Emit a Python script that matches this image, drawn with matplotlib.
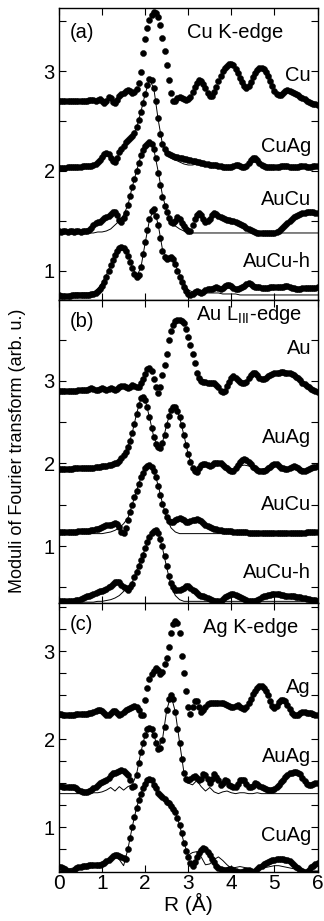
import numpy as np
import matplotlib
matplotlib.use('Agg')
import matplotlib.pyplot as plt
from matplotlib.ticker import MultipleLocator, FuncFormatter

plt.rcParams['font.family'] = ['Liberation Sans', 'DejaVu Sans']

# R grid of the measured spectra (0.05 A) and of the fitted curves (0.1 A)
r_exp = np.linspace(0, 6, 121)
r_fit = np.linspace(0, 6, 61)

# ---- (a) Cu K-edge ----
cu_a = [2.70, 2.70, 2.70, 2.70, 2.70, 2.70, 2.70, 2.70, 2.70, 2.70,
        2.70, 2.70, 2.70, 2.70, 2.71, 2.71, 2.71, 2.70, 2.71, 2.72,
        2.70, 2.68, 2.70, 2.74, 2.73, 2.69, 2.68, 2.71, 2.75, 2.77,
        2.78, 2.80, 2.81, 2.80, 2.78, 2.79, 2.82, 2.88, 2.99, 3.18,
        3.32, 3.43, 3.51, 3.56, 3.59, 3.58, 3.54, 3.46, 3.33, 3.20,
        3.06, 2.91, 2.78, 2.70, 2.70, 2.73, 2.74, 2.73, 2.72, 2.71,
        2.72, 2.74, 2.79, 2.84, 2.88, 2.91, 2.90, 2.87, 2.83, 2.78,
        2.75, 2.75, 2.79, 2.84, 2.90, 2.95, 3.00, 3.03, 3.05, 3.07,
        3.07, 3.06, 3.02, 2.98, 2.93, 2.89, 2.85, 2.83, 2.85, 2.89,
        2.94, 2.98, 3.01, 3.03, 3.03, 3.02, 2.99, 2.95, 2.90, 2.85,
        2.80, 2.77, 2.76, 2.76, 2.78, 2.80, 2.81, 2.80, 2.79, 2.78,
        2.77, 2.76, 2.74, 2.73, 2.72, 2.70, 2.69, 2.68, 2.67, 2.67,
        2.66]
cuag_a = [2.03, 2.03, 2.03, 2.03, 2.04, 2.04, 2.04, 2.04, 2.04, 2.04,
          2.04, 2.05, 2.05, 2.05, 2.05, 2.05, 2.06, 2.07, 2.09, 2.11,
          2.14, 2.17, 2.18, 2.17, 2.13, 2.10, 2.09, 2.13, 2.19, 2.22,
          2.25, 2.29, 2.31, 2.33, 2.35, 2.38, 2.44, 2.51, 2.59, 2.68,
          2.77, 2.86, 2.92, 2.91, 2.83, 2.70, 2.53, 2.37, 2.27, 2.22,
          2.18, 2.17, 2.16, 2.15, 2.14, 2.14, 2.13, 2.13, 2.12, 2.12,
          2.11, 2.11, 2.10, 2.10, 2.09, 2.09, 2.08, 2.08, 2.07, 2.07,
          2.06, 2.06, 2.06, 2.06, 2.05, 2.05, 2.04, 2.04, 2.04, 2.04,
          2.04, 2.05, 2.06, 2.06, 2.05, 2.04, 2.04, 2.05, 2.08, 2.11,
          2.13, 2.13, 2.11, 2.08, 2.06, 2.05, 2.04, 2.04, 2.04, 2.04,
          2.04, 2.04, 2.04, 2.05, 2.05, 2.05, 2.05, 2.04, 2.04, 2.04,
          2.04, 2.04, 2.05, 2.05, 2.05, 2.04, 2.04, 2.04, 2.05, 2.05,
          2.05]
aucu_a = [1.40, 1.39, 1.40, 1.40, 1.39, 1.40, 1.40, 1.39, 1.40, 1.40,
          1.39, 1.40, 1.40, 1.40, 1.41, 1.43, 1.46, 1.48, 1.49, 1.49,
          1.51, 1.53, 1.54, 1.55, 1.57, 1.59, 1.59, 1.56, 1.51, 1.49,
          1.53, 1.58, 1.66, 1.75, 1.84, 1.92, 2.00, 2.08, 2.16, 2.21,
          2.25, 2.27, 2.29, 2.27, 2.22, 2.13, 1.98, 1.86, 1.74, 1.65,
          1.59, 1.53, 1.49, 1.48, 1.50, 1.54, 1.52, 1.48, 1.45, 1.42,
          1.40, 1.40, 1.46, 1.52, 1.56, 1.58, 1.56, 1.52, 1.49, 1.50,
          1.52, 1.56, 1.58, 1.57, 1.55, 1.54, 1.53, 1.52, 1.51, 1.51,
          1.50, 1.50, 1.49, 1.48, 1.47, 1.46, 1.45, 1.43, 1.42, 1.41,
          1.40, 1.39, 1.38, 1.38, 1.38, 1.38, 1.38, 1.38, 1.38, 1.38,
          1.38, 1.39, 1.40, 1.42, 1.44, 1.46, 1.48, 1.50, 1.52, 1.54,
          1.55, 1.56, 1.57, 1.58, 1.58, 1.59, 1.59, 1.59, 1.59, 1.58,
          1.58]
aucuh_a = [0.76, 0.75, 0.75, 0.75, 0.75, 0.75, 0.76, 0.76, 0.76, 0.76,
           0.76, 0.76, 0.76, 0.76, 0.76, 0.77, 0.77, 0.78, 0.80, 0.82,
           0.85, 0.89, 0.94, 1.00, 1.06, 1.11, 1.16, 1.20, 1.23, 1.24,
           1.23, 1.20, 1.15, 1.09, 1.03, 0.97, 0.94, 0.96, 1.04, 1.17,
           1.29, 1.41, 1.52, 1.60, 1.62, 1.55, 1.46, 1.33, 1.20, 1.14,
           1.12, 1.13, 1.14, 1.12, 1.07, 1.00, 0.94, 0.89, 0.84, 0.80,
           0.77, 0.76, 0.77, 0.79, 0.80, 0.79, 0.78, 0.79, 0.81, 0.82,
           0.82, 0.82, 0.83, 0.84, 0.83, 0.82, 0.83, 0.85, 0.86, 0.86,
           0.85, 0.83, 0.82, 0.82, 0.83, 0.84, 0.85, 0.87, 0.88, 0.87,
           0.85, 0.84, 0.84, 0.84, 0.83, 0.83, 0.83, 0.83, 0.84, 0.84,
           0.84, 0.84, 0.84, 0.84, 0.84, 0.85, 0.85, 0.84, 0.83, 0.83,
           0.82, 0.82, 0.82, 0.83, 0.83, 0.83, 0.83, 0.83, 0.83, 0.83,
           0.84]
cuag_a_fit = [2.02, 2.02, 2.02, 2.03, 2.03, 2.03, 2.04, 2.05, 2.06, 2.09,
              2.13, 2.16, 2.14, 2.11, 2.17, 2.24, 2.30, 2.35, 2.43, 2.59,
              2.77, 2.91, 2.83, 2.52, 2.27, 2.17, 2.13, 2.11, 2.09, 2.07,
              2.06, 2.06, 2.07, 2.07, 2.06, 2.05, 2.05, 2.04, 2.04, 2.04,
              2.04, 2.05, 2.05, 2.04, 2.05, 2.09, 2.08, 2.05, 2.04, 2.03,
              2.03, 2.03, 2.03, 2.03, 2.03, 2.03, 2.03, 2.03, 2.03, 2.03,
              2.03]
aucu_a_fit = [1.38, 1.38, 1.38, 1.38, 1.38, 1.38, 1.38, 1.38, 1.38, 1.39,
              1.39, 1.40, 1.42, 1.46, 1.50, 1.56, 1.66, 1.84, 2.00, 2.15,
              2.25, 2.29, 2.22, 2.00, 1.76, 1.60, 1.50, 1.45, 1.42, 1.40,
              1.39, 1.38, 1.38, 1.38, 1.38, 1.38, 1.38, 1.38, 1.38, 1.38,
              1.38, 1.38, 1.38, 1.38, 1.38, 1.38, 1.38, 1.38, 1.38, 1.38,
              1.38, 1.38, 1.38, 1.38, 1.38, 1.38, 1.38, 1.38, 1.38, 1.38,
              1.38]
aucuh_a_fit = [0.75, 0.75, 0.76, 0.77, 0.78, 0.78, 0.78, 0.78, 0.79, 0.82,
               0.88, 0.96, 1.06, 1.15, 1.22, 1.24, 1.17, 1.04, 0.95, 1.03,
               1.28, 1.51, 1.62, 1.47, 1.22, 1.13, 1.13, 1.06, 0.97, 0.88,
               0.81, 0.79, 0.78, 0.78, 0.78, 0.78, 0.78, 0.78, 0.77, 0.77,
               0.77, 0.77, 0.76, 0.76, 0.76, 0.76, 0.76, 0.76, 0.76, 0.76,
               0.76, 0.76, 0.76, 0.76, 0.76, 0.76, 0.76, 0.76, 0.76, 0.76,
               0.76]

# ---- (b) Au L_III-edge ----
au_b = [2.88, 2.88, 2.88, 2.88, 2.88, 2.88, 2.88, 2.88, 2.88, 2.89,
        2.89, 2.89, 2.89, 2.89, 2.90, 2.91, 2.90, 2.89, 2.89, 2.90,
        2.91, 2.90, 2.89, 2.90, 2.91, 2.90, 2.89, 2.90, 2.92, 2.94,
        2.94, 2.92, 2.91, 2.93, 2.95, 2.94, 2.92, 2.93, 2.97, 3.02,
        3.08, 3.14, 3.16, 3.12, 3.02, 2.92, 2.85, 2.92, 3.07, 3.19,
        3.33, 3.49, 3.61, 3.68, 3.72, 3.74, 3.74, 3.73, 3.70, 3.63,
        3.53, 3.43, 3.33, 3.22, 3.10, 3.04, 3.00, 2.99, 2.99, 2.98,
        2.98, 2.98, 2.97, 2.95, 2.92, 2.88, 2.86, 2.88, 2.94, 2.99,
        3.03, 3.06, 3.04, 3.01, 2.99, 2.97, 2.97, 2.99, 3.03, 3.07,
        3.10, 3.10, 3.07, 3.04, 3.02, 3.02, 3.04, 3.06, 3.07, 3.08,
        3.09, 3.10, 3.10, 3.11, 3.11, 3.10, 3.10, 3.09, 3.08, 3.07,
        3.05, 3.03, 3.01, 2.98, 2.96, 2.94, 2.92, 2.90, 2.89, 2.88,
        2.87]
auag_b = [1.93, 1.93, 1.93, 1.93, 1.93, 1.93, 1.93, 1.94, 1.94, 1.94,
          1.94, 1.94, 1.94, 1.95, 1.95, 1.95, 1.95, 1.96, 1.96, 1.96,
          1.97, 1.97, 1.97, 1.98, 1.98, 1.99, 2.00, 2.01, 2.03, 2.06,
          2.10, 2.14, 2.20, 2.27, 2.37, 2.48, 2.60, 2.71, 2.79, 2.81,
          2.77, 2.68, 2.56, 2.43, 2.32, 2.24, 2.20, 2.19, 2.25, 2.35,
          2.47, 2.58, 2.65, 2.68, 2.68, 2.64, 2.56, 2.46, 2.34, 2.22,
          2.11, 2.02, 1.95, 1.91, 1.90, 1.94, 1.98, 1.99, 1.99, 1.98,
          1.97, 1.98, 2.00, 2.01, 2.01, 2.00, 1.98, 1.96, 1.94, 1.92,
          1.91, 1.91, 1.94, 1.98, 2.02, 2.04, 2.05, 2.04, 2.02, 1.99,
          1.96, 1.94, 1.92, 1.91, 1.91, 1.91, 1.92, 1.94, 1.96, 1.98,
          1.99, 1.99, 1.97, 1.95, 1.94, 1.93, 1.93, 1.94, 1.96, 1.97,
          1.96, 1.94, 1.92, 1.91, 1.91, 1.92, 1.93, 1.95, 1.96, 1.96,
          1.97]
aucu_b = [1.17, 1.17, 1.17, 1.17, 1.17, 1.17, 1.17, 1.17, 1.17, 1.18,
          1.18, 1.18, 1.18, 1.18, 1.18, 1.19, 1.19, 1.20, 1.21, 1.22,
          1.23, 1.24, 1.25, 1.26, 1.26, 1.27, 1.28, 1.27, 1.23, 1.17,
          1.16, 1.22, 1.31, 1.41, 1.50, 1.59, 1.67, 1.75, 1.83, 1.89,
          1.94, 1.97, 1.98, 1.96, 1.91, 1.84, 1.73, 1.62, 1.51, 1.42,
          1.35, 1.30, 1.29, 1.29, 1.31, 1.33, 1.34, 1.33, 1.31, 1.29,
          1.29, 1.30, 1.31, 1.32, 1.33, 1.32, 1.30, 1.28, 1.26, 1.24,
          1.23, 1.22, 1.21, 1.20, 1.19, 1.19, 1.18, 1.18, 1.18, 1.18,
          1.18, 1.17, 1.17, 1.17, 1.17, 1.17, 1.17, 1.17, 1.16, 1.16,
          1.16, 1.16, 1.16, 1.16, 1.16, 1.16, 1.16, 1.16, 1.16, 1.16,
          1.16, 1.16, 1.16, 1.16, 1.16, 1.16, 1.16, 1.16, 1.16, 1.16,
          1.16, 1.16, 1.16, 1.16, 1.16, 1.17, 1.17, 1.17, 1.17, 1.17,
          1.17]
aucuh_b = [0.33, 0.33, 0.33, 0.33, 0.33, 0.33, 0.34, 0.34, 0.35, 0.35,
           0.36, 0.37, 0.38, 0.39, 0.40, 0.41, 0.42, 0.43, 0.44, 0.45,
           0.46, 0.47, 0.48, 0.50, 0.52, 0.54, 0.56, 0.57, 0.56, 0.53,
           0.50, 0.49, 0.47, 0.50, 0.54, 0.62, 0.69, 0.76, 0.83, 0.89,
           0.97, 1.05, 1.11, 1.16, 1.18, 1.19, 1.16, 1.09, 1.00, 0.88,
           0.76, 0.64, 0.55, 0.50, 0.47, 0.47, 0.47, 0.48, 0.49, 0.51,
           0.51, 0.49, 0.47, 0.45, 0.43, 0.41, 0.40, 0.39, 0.38, 0.37,
           0.36, 0.35, 0.34, 0.33, 0.33, 0.34, 0.36, 0.38, 0.39, 0.41,
           0.42, 0.42, 0.41, 0.40, 0.38, 0.37, 0.36, 0.35, 0.34, 0.33,
           0.33, 0.34, 0.35, 0.36, 0.38, 0.39, 0.40, 0.41, 0.41, 0.42,
           0.42, 0.42, 0.42, 0.41, 0.41, 0.40, 0.40, 0.40, 0.39, 0.39,
           0.38, 0.38, 0.38, 0.37, 0.37, 0.36, 0.36, 0.35, 0.35, 0.35,
           0.34]
auag_b_fit = [1.93, 1.93, 1.93, 1.93, 1.93, 1.94, 1.94, 1.95, 1.95, 1.96,
              1.97, 1.98, 1.97, 1.99, 2.03, 2.10, 2.20, 2.37, 2.60, 2.79,
              2.77, 2.56, 2.32, 2.20, 2.25, 2.47, 2.65, 2.68, 2.56, 2.34,
              2.11, 1.96, 1.92, 1.96, 1.98, 1.97, 1.99, 2.00, 1.98, 1.95,
              1.93, 1.94, 1.97, 1.98, 1.97, 1.95, 1.93, 1.93, 1.94, 1.96,
              1.98, 1.97, 1.95, 1.94, 1.95, 1.96, 1.95, 1.93, 1.93, 1.94,
              1.95]
aucu_b_fit = [1.15, 1.15, 1.15, 1.15, 1.15, 1.15, 1.15, 1.15, 1.15, 1.15,
              1.15, 1.16, 1.17, 1.19, 1.22, 1.27, 1.34, 1.50, 1.67, 1.83,
              1.94, 1.98, 1.91, 1.74, 1.52, 1.34, 1.22, 1.17, 1.15, 1.15,
              1.15, 1.15, 1.15, 1.15, 1.15, 1.15, 1.15, 1.15, 1.15, 1.15,
              1.15, 1.15, 1.15, 1.15, 1.15, 1.15, 1.15, 1.15, 1.15, 1.15,
              1.15, 1.15, 1.15, 1.15, 1.15, 1.15, 1.15, 1.15, 1.15, 1.15,
              1.15]
aucuh_b_fit = [0.32, 0.32, 0.32, 0.32, 0.32, 0.32, 0.32, 0.32, 0.32, 0.33,
               0.33, 0.34, 0.35, 0.37, 0.40, 0.45, 0.50, 0.56, 0.70, 0.83,
               0.97, 1.11, 1.18, 1.15, 0.98, 0.74, 0.52, 0.40, 0.35, 0.33,
               0.33, 0.33, 0.33, 0.33, 0.33, 0.33, 0.33, 0.33, 0.33, 0.33,
               0.33, 0.33, 0.33, 0.33, 0.33, 0.33, 0.33, 0.33, 0.33, 0.33,
               0.33, 0.33, 0.33, 0.33, 0.33, 0.33, 0.33, 0.33, 0.33, 0.33,
               0.33]

# ---- (c) Ag K-edge ----
ag_c = [2.29, 2.29, 2.28, 2.28, 2.28, 2.28, 2.28, 2.28, 2.29, 2.29,
        2.29, 2.29, 2.29, 2.29, 2.30, 2.30, 2.31, 2.32, 2.33, 2.33,
        2.32, 2.30, 2.28, 2.28, 2.30, 2.32, 2.32, 2.30, 2.28, 2.29,
        2.31, 2.33, 2.34, 2.35, 2.37, 2.38, 2.37, 2.33, 2.28, 2.28,
        2.45, 2.58, 2.68, 2.74, 2.78, 2.81, 2.79, 2.74, 2.77, 2.85,
        2.92, 3.05, 3.21, 3.31, 3.35, 3.32, 3.21, 2.95, 2.75, 2.55,
        2.37, 2.29, 2.37, 2.44, 2.43, 2.37, 2.31, 2.33, 2.37, 2.40,
        2.41, 2.41, 2.41, 2.41, 2.41, 2.41, 2.41, 2.40, 2.39, 2.38,
        2.37, 2.37, 2.38, 2.39, 2.37, 2.35, 2.34, 2.37, 2.41, 2.46,
        2.51, 2.55, 2.58, 2.60, 2.60, 2.58, 2.55, 2.50, 2.44, 2.38,
        2.35, 2.38, 2.42, 2.45, 2.45, 2.44, 2.39, 2.34, 2.30, 2.28,
        2.27, 2.28, 2.30, 2.31, 2.31, 2.30, 2.30, 2.30, 2.29, 2.28,
        2.27]
auag_c = [1.47, 1.47, 1.46, 1.46, 1.45, 1.45, 1.46, 1.45, 1.44, 1.42,
          1.41, 1.40, 1.40, 1.40, 1.41, 1.42, 1.44, 1.46, 1.48, 1.50,
          1.51, 1.52, 1.54, 1.56, 1.59, 1.61, 1.62, 1.63, 1.64, 1.65,
          1.64, 1.62, 1.59, 1.53, 1.46, 1.47, 1.59, 1.73, 1.85, 1.96,
          2.05, 2.11, 2.13, 2.11, 2.05, 1.96, 1.89, 1.90, 1.99, 2.14,
          2.33, 2.46, 2.50, 2.46, 2.31, 2.12, 1.96, 1.77, 1.62, 1.55,
          1.53, 1.55, 1.57, 1.58, 1.56, 1.53, 1.55, 1.60, 1.59, 1.55,
          1.50, 1.55, 1.60, 1.57, 1.53, 1.48, 1.50, 1.54, 1.52, 1.48,
          1.47, 1.46, 1.45, 1.49, 1.53, 1.54, 1.53, 1.49, 1.46, 1.45,
          1.47, 1.50, 1.49, 1.47, 1.45, 1.44, 1.43, 1.42, 1.42, 1.42,
          1.43, 1.45, 1.48, 1.51, 1.54, 1.57, 1.59, 1.61, 1.62, 1.63,
          1.63, 1.62, 1.60, 1.56, 1.52, 1.49, 1.48, 1.48, 1.49, 1.50,
          1.50]
cuag_c = [0.55, 0.54, 0.53, 0.52, 0.50, 0.49, 0.49, 0.51, 0.53, 0.54,
          0.55, 0.56, 0.56, 0.56, 0.57, 0.57, 0.57, 0.57, 0.57, 0.57,
          0.58, 0.59, 0.61, 0.63, 0.65, 0.67, 0.68, 0.68, 0.67, 0.66,
          0.65, 0.64, 0.75, 0.88, 1.00, 1.11, 1.22, 1.31, 1.38, 1.44,
          1.49, 1.53, 1.55, 1.54, 1.48, 1.44, 1.39, 1.36, 1.34, 1.32,
          1.29, 1.27, 1.24, 1.21, 1.17, 1.10, 1.02, 0.93, 0.82, 0.73,
          0.66, 0.59, 0.56, 0.60, 0.66, 0.71, 0.74, 0.76, 0.75, 0.72,
          0.68, 0.64, 0.60, 0.56, 0.53, 0.52, 0.51, 0.51, 0.51, 0.52,
          0.52, 0.51, 0.50, 0.49, 0.49, 0.49, 0.50, 0.51, 0.51, 0.50,
          0.49, 0.50, 0.52, 0.54, 0.56, 0.58, 0.59, 0.60, 0.61, 0.62,
          0.63, 0.64, 0.64, 0.64, 0.64, 0.63, 0.62, 0.61, 0.59, 0.57,
          0.55, 0.53, 0.51, 0.50, 0.49, 0.49, 0.51, 0.54, 0.56, 0.58,
          0.59]
auag_c_fit = [1.38, 1.38, 1.38, 1.38, 1.38, 1.38, 1.38, 1.38, 1.39, 1.39,
              1.40, 1.42, 1.45, 1.41, 1.46, 1.42, 1.46, 1.48, 1.60, 1.85,
              2.05, 2.13, 2.05, 1.89, 1.99, 2.33, 2.50, 2.31, 1.96, 1.62,
              1.50, 1.48, 1.53, 1.46, 1.41, 1.45, 1.40, 1.38, 1.40, 1.41,
              1.39, 1.38, 1.39, 1.39, 1.38, 1.38, 1.39, 1.38, 1.38, 1.38,
              1.38, 1.38, 1.38, 1.38, 1.38, 1.38, 1.38, 1.38, 1.38, 1.38,
              1.38]
cuag_c_fit = [0.52, 0.52, 0.52, 0.53, 0.54, 0.55, 0.55, 0.56, 0.56, 0.57,
              0.58, 0.61, 0.65, 0.67, 0.63, 0.56, 0.75, 1.00, 1.22, 1.38,
              1.49, 1.55, 1.48, 1.39, 1.34, 1.29, 1.24, 1.17, 1.02, 0.82,
              0.68, 0.71, 0.72, 0.66, 0.57, 0.58, 0.63, 0.66, 0.62, 0.57,
              0.53, 0.54, 0.55, 0.54, 0.52, 0.51, 0.52, 0.53, 0.54, 0.55,
              0.56, 0.56, 0.55, 0.54, 0.53, 0.52, 0.51, 0.51, 0.50, 0.50,
              0.50]

panels = [
    {'tag': '(a)', 'edge': 'Cu K-edge', 'ylim': (0.71, 3.63), 'step': 0.5,
     'exp': [(cu_a, 'Cu', 2.96), (cuag_a, 'CuAg', 2.24),
             (aucu_a, 'AuCu', 1.71), (aucuh_a, 'AuCu-h', 1.09)],
     'fit': [cuag_a_fit, aucu_a_fit, aucuh_a_fit],
     'tag_y': 3.39, 'edge_y': 3.39, 'edge_x': 5.2},
    {'tag': '(b)', 'edge': r'Au L$_\mathregular{III}$-edge', 'ylim': (0.31, 3.98), 'step': 0.5,
     'exp': [(au_b, 'Au', 3.39), (auag_b, 'AuAg', 2.32),
             (aucu_b, 'AuCu', 1.50), (aucuh_b, 'AuCu-h', 0.68)],
     'fit': [auag_b_fit, aucu_b_fit, aucuh_b_fit],
     'tag_y': 3.72, 'edge_y': 3.80, 'edge_x': 5.65},
    {'tag': '(c)', 'edge': 'Ag K-edge', 'ylim': (0.486, 3.55), 'step': 0.25,
     'exp': [(ag_c, 'Ag', 2.59), (auag_c, 'AuAg', 1.80), (cuag_c, 'CuAg', 0.90)],
     'fit': [auag_c_fit, cuag_c_fit],
     'tag_y': 3.30, 'edge_y': 3.27, 'edge_x': 5.55},
]

# axes boxes in figure fractions (left, bottom, width, height)
boxes = [[0.182, 0.6743, 0.798, 0.317],
         [0.182, 0.3453, 0.798, 0.329],
         [0.182, 0.0530, 0.798, 0.2923]]

int_only = FuncFormatter(lambda v, p: f'{int(round(v))}' if abs(v - round(v)) < 1e-6 else '')

fig = plt.figure(figsize=(3.24, 9.21), dpi=100)
axes = []
for box, p in zip(boxes, panels):
    ax = fig.add_axes(box)
    for fit in p['fit']:
        ax.plot(r_fit, fit, '-', color='black', lw=0.7, zorder=2)
    for vals, name, ly in p['exp']:
        ax.plot(r_exp, vals, 'o', color='black', ms=4.4, mew=0.3, zorder=3)
        ax.text(5.85, ly, name, ha='right', va='center', fontsize=14.5)
    ax.text(0.25, p['tag_y'], p['tag'], ha='left', va='center', fontsize=14.5)
    ax.text(p['edge_x'], p['edge_y'], p['edge'], ha='right', va='center', fontsize=14.5)

    ax.set_xlim(0, 6)
    ax.set_ylim(*p['ylim'])
    ax.xaxis.set_major_locator(MultipleLocator(1))
    ax.yaxis.set_major_locator(MultipleLocator(p['step']))
    ax.yaxis.set_major_formatter(int_only)
    ax.tick_params(direction='in', top=True, right=True, length=5, width=0.8,
                   labelsize=14.5, pad=3)
    for s in ax.spines.values():
        s.set_linewidth(1.0)
    axes.append(ax)

for ax in axes[:2]:
    ax.tick_params(labelbottom=False)
axes[2].tick_params(axis='x', labelsize=15, pad=1)
axes[2].set_xlabel('R (Å)', fontsize=15, labelpad=0)

fig.text(0.055, 0.51, 'Moduli of Fourier transform (arb. u.)', rotation=90,
         ha='center', va='center', fontsize=13)

fig.savefig('out.png', dpi=100)
